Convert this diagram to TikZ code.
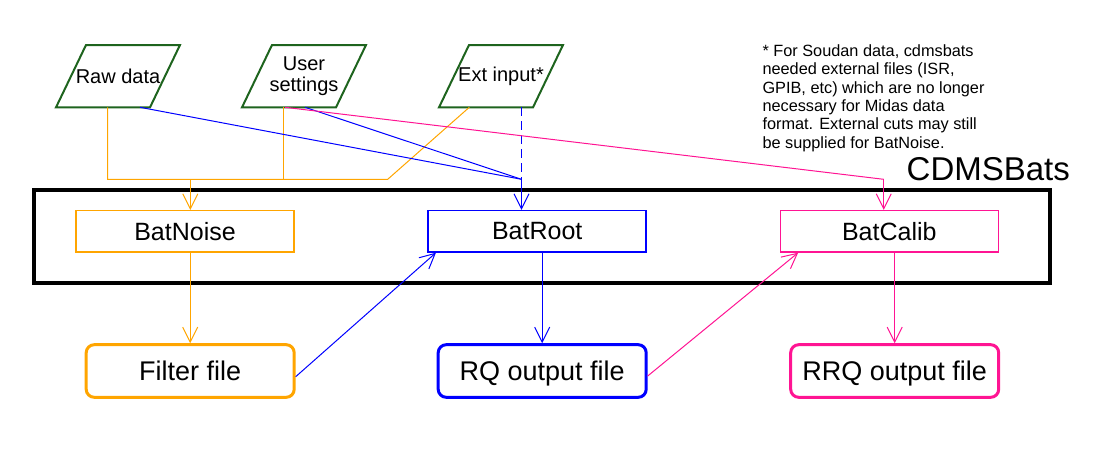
\documentclass[tikz,border=0pt]{standalone}
\usepackage{fontspec}
\setmainfont{Liberation Sans}
\usetikzlibrary{arrows.meta,calc}
\definecolor{cOrange}{RGB}{255,165,0}
\definecolor{cBlue}{RGB}{0,0,255}
\definecolor{cPink}{RGB}{255,20,147}
\definecolor{cGreen}{RGB}{30,100,30}
\tikzset{
  conn/.style={line width=1pt},
  arr/.style={conn,-{Straight Barb[length=15pt,width=15pt]}},
  proc/.style={draw,line width=1.5pt,minimum width=218pt,minimum height=41.3pt,inner sep=0pt,text depth=0pt,font=\fontsize{25}{30}\selectfont},
  outfile/.style={draw,line width=3pt,rounded corners=8pt,minimum width=208pt,minimum height=52.6pt,inner sep=0pt,text depth=0pt,font=\fontsize{27}{32}\selectfont},
  inlabel/.style={inner sep=0pt,align=center,font=\fontsize{20}{21}\selectfont},
  para/.style={draw=cGreen,line width=2pt,line join=miter},
  bigframe/.style={draw=black,line width=4pt,inner sep=0pt},
  dashblue/.style={line width=1.2pt,draw=cBlue,dash pattern=on 9pt off 5pt},
}
\begin{document}
\begin{tikzpicture}[x=1pt,y=-1pt]
\useasboundingbox (0,0) rectangle (1093,450);

% frame and title
\node[bigframe,minimum width=1016pt,minimum height=93.3pt] (cdms) at (542,236.65) {};
\node[anchor=base west,inner sep=0pt,font=\fontsize{33}{38}\selectfont] (title) at (906.5,180) {CDMSBats};

% note
\node[anchor=north west,align=left,inner sep=0pt,font=\fontsize{16.3}{18.33}\selectfont] (note) at (762.3,44.5)
  {* For Soudan data, cdmsbats\\needed external files (ISR,\\GPIB, etc) which are no longer\\necessary for Midas data\\format. External cuts may still\\be supplied for BatNoise.};

% inputs
\node[inlabel] (raw) at (118,76.2) {Raw data};
\node[inlabel] (user) at (304,76.2) {User\\settings};
\node[inlabel] (ext) at (501,76.2) {Ext input*};
\foreach \n in {raw,user,ext}
  \draw[para] ($(\n)+(-32,-31.2)$) -- ($(\n)+(62,-31.2)$) -- ($(\n)+(32,31.2)$) -- ($(\n)+(-62,31.2)$) -- cycle;

% processes
\node[proc,draw=cOrange] (bn) at (185,231.3) {BatNoise};
\node[proc,draw=cBlue] (br) at (537.2,231.3) {BatRoot};
\node[proc,draw=cPink] (bc) at (889.3,231.3) {BatCalib};

% outputs
\node[outfile,draw=cOrange] (ff) at (190.2,371) {Filter file};
\node[outfile,draw=cBlue] (rq) at (542.2,371) {RQ output file};
\node[outfile,draw=cPink] (rrq) at (894.7,371) {RRQ output file};

% junctions
\coordinate (obus) at (387.7,179.3);
\coordinate (ojoin) at (190.3,179.3);
\coordinate (bjoin) at (521.5,179.3);
\coordinate (pjoin) at (883.7,179.3);

% orange
\draw[conn,draw=cOrange] ($(raw)+(-10.3,31.1)$) |- (obus) -- ($(ext)+(-31.7,31.1)$);
\draw[conn,draw=cOrange] ($(user)+(-20.3,31.1)$) -- ++(0,72);
\draw[arr,draw=cOrange] (ojoin) -- (ojoin |- bn.north);
\draw[arr,draw=cOrange] (bn.south -| ff.north) -- (ff.north);

% blue
\draw[conn,draw=cBlue] ($(raw)+(22,31.1)$) -- (bjoin);
\draw[conn,draw=cBlue] ($(user)+(1,31.1)$) -- (bjoin);
\draw[dashblue] ($(ext)+(20.5,31.1)$) -- (bjoin);
\draw[arr,draw=cBlue] (bjoin) -- (bjoin |- br.north);
\draw[arr,draw=cBlue] ([yshift=-5.7pt]ff.east) -- ([xshift=8.5pt]br.south west);
\draw[arr,draw=cBlue] (br.south -| rq.north) -- (rq.north);

% pink
\draw[conn,draw=cPink] ($(user)+(-19,31.1)$) -- (pjoin);
\draw[arr,draw=cPink] (pjoin) -- (pjoin |- bc.north);
\draw[arr,draw=cPink] ([yshift=-5pt]rq.east) -- ([xshift=18.6pt]bc.south west);
\draw[arr,draw=cPink] (bc.south -| rrq.north) -- (rrq.north);
\end{tikzpicture}
\end{document}
